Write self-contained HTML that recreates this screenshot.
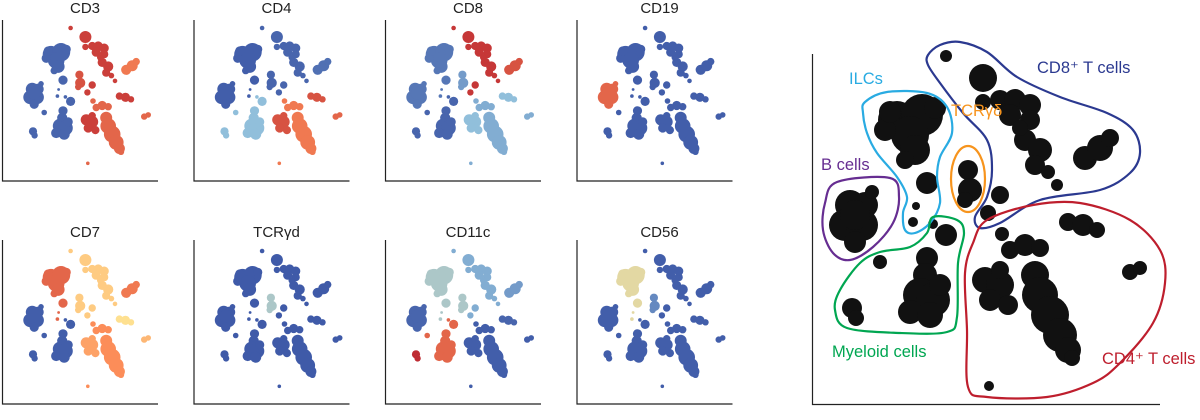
<!DOCTYPE html>
<html><head><meta charset="utf-8">
<style>
html,body{margin:0;padding:0;background:#fff;width:1200px;height:420px;overflow:hidden}
svg text{font-family:"Liberation Sans",sans-serif}
</style></head>
<body>
<svg id="fig" width="1200" height="420" viewBox="0 0 1200 420" xmlns="http://www.w3.org/2000/svg"></svg>
<script>
// ---- data ----
const markers = ["CD3","CD4","CD8","CD19","CD7","TCRγd","CD11c","CD56"];
const clusterNames = ["ilc","b-cells","myeloid","myeloid-small","tcr-gd","cd8","cd8-right","cd4-main","cd4-left","cd4-top","cd4-right"];
// expression level per cluster (0 = low/blue, 1 = high/red), one array per marker
const exprCD3   = [0.05,0.05,0.05,0.05,0.85,0.9,0.75,0.8,0.9,0.9,0.8];
const exprCD4   = [0.03,0.03,0.3,0.3,0.05,0.05,0.08,0.75,0.85,0.85,0.8];
const exprCD8   = [0.1,0.1,0.05,0.05,0.2,0.92,0.85,0.25,0.3,0.3,0.25];
const exprCD19  = [0.03,0.8,0.03,0.03,0.03,0.03,0.03,0.03,0.03,0.03,0.03];
const exprCD7   = [0.8,0.03,0.03,0.03,0.55,0.55,0.75,0.7,0.65,0.5,0.6];
const exprTCRgd = [0.02,0.02,0.02,0.02,0.35,0.02,0.02,0.02,0.02,0.02,0.02];
const exprCD11c = [0.35,0.05,0.8,0.95,0.35,0.25,0.2,0.03,0.03,0.05,0.03];
const exprCD56  = [0.45,0.03,0.03,0.03,0.15,0.03,0.03,0.03,0.03,0.03,0.03];
const exprs = [exprCD3,exprCD4,exprCD8,exprCD19,exprCD7,exprTCRgd,exprCD11c,exprCD56];

// cluster shapes (big-panel coordinates): [cluster, x, y, r]
const blobs = [
 [0,897,120,18],[0,922,115,20],[0,935,108,10],[0,910,135,18],[0,915,150,14],[0,905,160,8],[0,885,130,10],[0,890,112,10],
 [0,927,183,10],[0,916,206,3],[0,913,222,4],
 [1,850,205,14],[1,865,205,12],[1,845,225,15],[1,862,225,15],[1,855,242,10],[1,872,192,6],[1,855,215,14],
 [2,927,258,10],[2,925,275,11],[2,920,295,16],[2,933,300,16],[2,910,312,11],[2,930,315,12],[2,940,285,10],
 [2,880,262,6],[2,946,235,10],[2,933,224,4],
 [3,852,308,9],[3,856,318,7],
 [4,968,170,9],[4,970,190,11],[4,965,200,7],
 [5,1000,100,9],[5,1015,100,10],[5,1030,105,10],[5,1010,115,10],[5,1030,120,9],[5,1025,140,10],[5,1040,150,11],
 [5,1035,165,9],[5,1048,172,6],[5,1020,128,7],
 [5,983,78,13],[5,946,56,5],[5,983,102,7],[5,1057,185,5],[5,1000,195,8],[5,988,213,7],
 [6,1085,158,11],[6,1100,148,12],[6,1110,138,8],
 [7,1010,250,8],[7,1025,245,10],[7,1040,248,8],[7,1035,275,13],[7,1040,295,17],[7,1050,315,18],
 [7,1060,335,16],[7,1068,350,12],[7,1072,358,7],[7,1002,234,6],[7,989,386,4],
 [8,985,280,12],[8,1000,285,13],[8,990,300,10],[8,1008,305,9],[8,1000,270,8],
 [9,1068,222,8],[9,1083,225,10],[9,1097,230,7],
 [10,1130,272,7],[10,1140,268,6]
];

const svg = document.getElementById('fig');
const NS = 'http://www.w3.org/2000/svg';
function mk(tag, attrs, parent){const e=document.createElementNS(NS,tag);for(const k in attrs)e.setAttribute(k,attrs[k]);(parent||svg).appendChild(e);return e;}

const stops=[[0,[57,83,164]],[0.3,[145,191,219]],[0.5,[254,224,144]],[0.7,[252,141,89]],[1,[178,24,43]]];
function cmap(v){v=Math.max(0,Math.min(1,v));for(let i=1;i<stops.length;i++){if(v<=stops[i][0]){const a=stops[i-1],b=stops[i];const t=(v-a[0])/(b[0]-a[0]);const c=a[1].map((x,j)=>Math.round(x+(b[1][j]-x)*t));return `rgb(${c[0]},${c[1]},${c[2]})`;}}return 'rgb(178,24,43)';}

// ---- small panels ----
markers.forEach((m,i)=>{
  const col=i%4,row=Math.floor(i/4);
  const px=2+col*191.5, py=row*221;
  const g=mk('g',{});
  
  
  const t=mk('text',{x:px+83,y:row?237:13,'font-size':15,'text-anchor':'middle',fill:'#222'},g);
  t.textContent=m;
  
  
  const top=row?240:20, bot=row?404:181;
  const ax=mk('path',{d:`M${px+0.5},${top}V${bot}H${px+156}`,stroke:'#222','stroke-width':1.2,fill:'none'},g);
  
  
  const oy=row?251:28;
  const sx=X=>px+23+(X-832)*0.4, sy=Y=>oy+(Y-56)*0.41;
  blobs.forEach(b=>{
    const c=mk('circle',{cx:sx(b[1]).toFixed(1),cy:sy(b[2]).toFixed(1),r:(b[3]*0.46).toFixed(1),fill:cmap(exprs[i][b[0]])},g);
    
    
  });
});

// ---- big panel ----
const big=mk('g',{});


const bax=mk('path',{d:'M812.5,54V404.5H1160',stroke:'#222','stroke-width':1.2,fill:'none'},big);


blobs.forEach(b=>{
  const c=mk('circle',{cx:b[1],cy:b[2],r:b[3]+1,fill:'#111'},big);
  
  
});
function smooth(p){let d=`M${p[0][0]},${p[0][1]}`;const n=p.length;for(let i=0;i<n;i++){const p0=p[(i-1+n)%n],p1=p[i],p2=p[(i+1)%n],p3=p[(i+2)%n];
 d+=`C${(p1[0]+(p2[0]-p0[0])/6).toFixed(1)},${(p1[1]+(p2[1]-p0[1])/6).toFixed(1)} ${(p2[0]-(p3[0]-p1[0])/6).toFixed(1)},${(p2[1]-(p3[1]-p1[1])/6).toFixed(1)} ${p2[0]},${p2[1]}`;}return d+'Z';}
const gates=[
 ['cd8-gate','#2b3990',[[928,55],[940,45],[960,42],[987,52],[1017,77],[1060,97],[1107,113],[1133,130],[1140,153],[1130,173],[1100,190],[1040,200],[1000,223],[980,228],[975,217],[987,197],[992,170],[987,140],[963,113],[940,83],[928,65]]],
 ['ilc-gate','#29abe2',[[865,102],[887,92],[927,93],[947,107],[952,133],[940,157],[937,177],[940,203],[930,223],[915,233],[905,230],[903,213],[907,197],[897,177],[877,153],[867,133],[863,113]]],
 ['b-cell-gate','#662d91',[[837,182],[890,178],[899,197],[893,223],[873,247],[850,260],[833,253],[823,230],[825,203]]],
 ['myeloid-gate','#00a651',[[933,217],[957,220],[964,233],[958,263],[957,317],[947,332],[900,333],[847,328],[835,310],[840,290],[860,263],[880,252],[910,247],[927,233]]],
 ['cd4-gate','#be1e2d',[[987,220],[1033,205],[1080,203],[1130,220],[1160,250],[1165,283],[1153,323],[1120,363],[1093,383],[1047,397],[987,397],[968,387],[967,330],[965,273],[973,243]]]
];
gates.forEach(gt=>{
  const p=mk('path',{d:smooth(gt[2]),fill:'none',stroke:gt[1],'stroke-width':2.2},big);
  
  
});
const tg=mk('ellipse',{cx:968,cy:179,rx:17,ry:33,fill:'none',stroke:'#f7941d','stroke-width':2.2},big);


const labels=[
 ['cd8-label','#2b3990',1037,73,'CD8⁺ T cells'],
 ['ilc-label','#29abe2',849,84,'ILCs'],
 ['tcr-gd-label','#f7941d',951,116,'TCRγδ'],
 ['b-cell-label','#662d91',821,170,'B cells'],
 ['myeloid-label','#00a651',832,357,'Myeloid cells'],
 ['cd4-label','#be1e2d',1102,364,'CD4⁺ T cells']
];
labels.forEach(l=>{
  const t=mk('text',{x:l[2],y:l[3],fill:l[1],'font-size':16.5},big);
  t.textContent=l[4];
  
  
});
</script>
</body></html>
